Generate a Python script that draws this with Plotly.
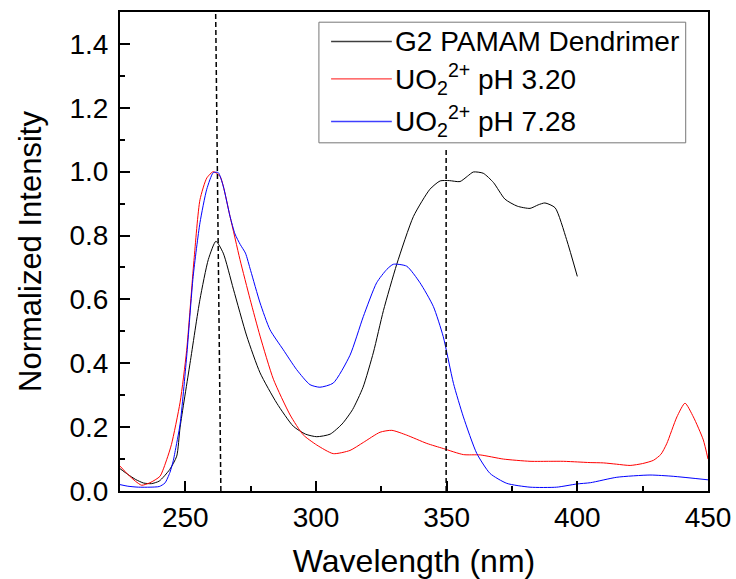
import plotly.graph_objects as go

# ---- data ----
g2_wl = [225, 228, 231, 234, 237, 240, 244, 246.7, 248, 251.8, 255.6, 258.8, 261.7, 264.5, 268.4,
         273.5, 278.6, 285, 291.3, 296, 300.3, 305.4, 310, 314, 318, 322, 325.8, 330.9, 337.3,
         343.6, 347.5, 351, 355.1, 358, 360.2, 364, 367.9, 372.3, 377, 381.9, 385, 387.6, 391.5,
         395.9, 400]
g2_int = [0.070, 0.052, 0.036, 0.025, 0.023, 0.031, 0.067, 0.109, 0.20, 0.40, 0.60, 0.725, 0.782,
          0.745, 0.632, 0.485, 0.37, 0.275, 0.203, 0.178, 0.170, 0.178, 0.21, 0.255, 0.325, 0.435,
          0.565, 0.71, 0.86, 0.945, 0.971, 0.972, 0.969, 0.986, 0.999, 0.995, 0.966, 0.914, 0.892,
          0.885, 0.896, 0.902, 0.887, 0.787, 0.672]

ph320_wl = [225, 228, 231, 233.3, 236.5, 240.3, 242.9, 244.7, 248, 250.5, 253.3, 255.6, 258.2, 260.7,
            263.3, 267.1, 270.9, 274.8, 278.6, 283.7, 290.1, 295.1, 300.3, 306.6, 313, 318.1, 324.5,
            329, 334.7, 342.4, 348.7, 356.4, 362.8, 371.7, 381.9, 389.6, 394.7, 400, 404.9, 410,
            415, 420.2, 425, 429.1, 432, 434.2, 438.1, 441.2, 444.4, 448.2, 450]
ph320_int = [0.078, 0.052, 0.030, 0.018, 0.026, 0.046, 0.099, 0.146, 0.278, 0.44, 0.722, 0.912, 0.98,
             1.0, 0.985, 0.86, 0.725, 0.60, 0.485, 0.35, 0.238, 0.176, 0.144, 0.117, 0.127, 0.152,
             0.184, 0.19, 0.175, 0.149, 0.133, 0.114, 0.113, 0.100, 0.093, 0.093, 0.093, 0.091,
             0.089, 0.088, 0.084, 0.080, 0.086, 0.096, 0.115, 0.148, 0.232, 0.275, 0.232, 0.16, 0.10]

ph728_wl = [225, 228, 232, 236.5, 240, 242.2, 244.1, 245.4, 246, 248, 250.5, 253, 255.6, 258.2, 260.7,
            262.6, 264.5, 267.1, 269, 271, 273, 275, 278.6, 282.4, 287.5, 292.6, 297.7, 301.5,
            306.6, 313, 318.1, 323.2, 327.1, 329.6, 334.7, 339.8, 344.9, 348.7, 352.6, 356.4,
            361.5, 366.6, 373, 381.9, 392.1, 399.8, 405, 415.1, 427.8, 436.7, 450]
ph728_int = [0.020, 0.015, 0.012, 0.012, 0.014, 0.025, 0.058, 0.095, 0.12, 0.21, 0.42, 0.672, 0.84,
             0.945, 0.997, 0.997, 0.955, 0.86, 0.805, 0.772, 0.745, 0.69, 0.589, 0.505, 0.442, 0.38,
             0.333, 0.325, 0.338, 0.425, 0.546, 0.652, 0.694, 0.71, 0.704, 0.652, 0.578, 0.483,
             0.337, 0.232, 0.118, 0.055, 0.024, 0.012, 0.012, 0.022, 0.026, 0.043, 0.05, 0.046,
             0.035]

series_names = ["G2 PAMAM Dendrimer",
                "UO<sub>2</sub><sup>2+</sup> pH 3.20",
                "UO<sub>2</sub><sup>2+</sup> pH 7.28"]
series_colors = ["#000000", "#ff0000", "#0000ff"]

# reference dashed lines (wavelength at bottom, wavelength at top, top intensity)
dash_lines = [(263.6, 261.6, 1.5), (349.8, 349.8, 1.076)]

x_ticks = [250, 300, 350, 400, 450]
y_ticks = [0.0, 0.2, 0.4, 0.6, 0.8, 1.0, 1.2, 1.4]

FONT = "Arial, Liberation Sans, sans-serif"

fig = go.Figure()
for wl, val, name, col in zip([g2_wl, ph320_wl, ph728_wl], [g2_int, ph320_int, ph728_int],
                              series_names, series_colors):
    fig.add_trace(go.Scatter(x=wl, y=val, mode="lines", name=name, showlegend=False,
                             line=dict(color=col, width=1, shape="spline", smoothing=0.6)))

for xb, xt, yt in dash_lines:
    fig.add_shape(type="line", x0=xb, y0=0, x1=xt, y1=yt, xref="x", yref="y",
                  line=dict(color="black", width=1.5, dash="5px,3px"), layer="above")

# legend box (paper coordinates)
LEG_X0, LEG_X1, LEG_Y0, LEG_Y1 = 0.3383, 0.9621, 0.7269, 0.9787
LEG_ROWS = [0.9384, 0.8605, 0.7714]
LEG_LINE_X0, LEG_LINE_X1, LEG_TEXT_X = 0.3590, 0.4623, 0.4640
fig.add_shape(type="rect", xref="paper", yref="paper", x0=LEG_X0, x1=LEG_X1, y0=LEG_Y0, y1=LEG_Y1,
              line=dict(color="#777777", width=1), fillcolor="white", layer="above")
for name, col, ry in zip(series_names, series_colors, LEG_ROWS):
    fig.add_shape(type="line", xref="paper", yref="paper", x0=LEG_LINE_X0, x1=LEG_LINE_X1,
                  y0=ry, y1=ry, line=dict(color=col, width=1.3), opacity=0.75, layer="above")
    fig.add_annotation(xref="paper", yref="paper", x=LEG_TEXT_X, y=ry, text=name,
                       showarrow=False, xanchor="left", yanchor="middle",
                       font=dict(size=28, family=FONT, color="black"))

fig.update_layout(
    width=736, height=579,
    margin=dict(l=120, r=28, t=12, b=88),
    paper_bgcolor="white", plot_bgcolor="white",
    font=dict(family=FONT, color="black"),
    showlegend=False,
)
fig.update_xaxes(range=[225, 450], tickvals=x_ticks, ticks="inside", ticklen=10, tickwidth=1.5,
                 tickcolor="black", showline=True, linecolor="black", linewidth=2, mirror=True,
                 showgrid=False, zeroline=False, ticklabelstandoff=0, automargin=False,
                 minor=dict(dtick=25, tick0=225, ticks="inside", ticklen=5, tickwidth=1.5,
                            tickcolor="black", showgrid=False),
                 tickfont=dict(size=28, family=FONT, color="black"),
                 title=dict(text="Wavelength (nm)", font=dict(size=32, family=FONT, color="black"),
                            standoff=18))
fig.update_yaxes(range=[0, 1.5], tickvals=y_ticks, tickformat=".1f", ticks="inside", ticklen=10,
                 tickwidth=1.5, tickcolor="black", showline=True, linecolor="black", linewidth=2,
                 mirror=True, showgrid=False, zeroline=False, ticklabelstandoff=4, automargin=False,
                 minor=dict(dtick=0.1, tick0=0, ticks="inside", ticklen=5, tickwidth=1.5,
                            tickcolor="black", showgrid=False),
                 tickfont=dict(size=28, family=FONT, color="black"),
                 title=dict(text="Normalized Intensity", font=dict(size=31, family=FONT, color="black"),
                            standoff=19))

fig.write_html("out.html")
